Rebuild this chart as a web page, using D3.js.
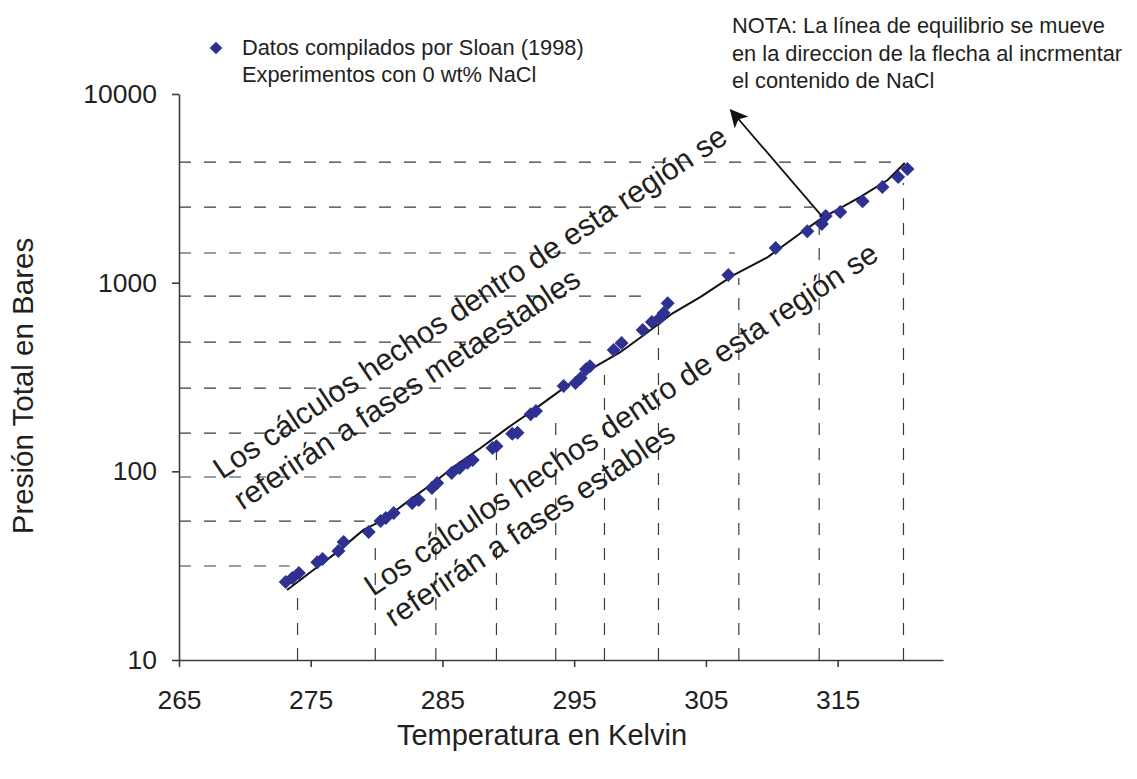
<!DOCTYPE html>
<html>
<head>
<meta charset="utf-8">
<script src="https://cdn.jsdelivr.net/npm/d3@7"></script>
<style>
  body { margin: 0; background: #fff; }
  svg { display: block; font-family: "Liberation Sans", Arial, sans-serif; }
</style>
</head>
<body>
<div id="chart"></div>
<script>
var width = 1137, height = 779;
var textColor = '#231f20';

var tempTicks = [265, 275, 285, 295, 305, 315];
var pressTicks = [10, 100, 1000, 10000];

// Sloan (1998) compiled points, 0 wt% NaCl
var sloanTemp = [273.1, 273.6, 274.1, 275.5, 275.9, 277.1, 277.5, 279.4, 280.3, 280.7,
  281.3, 282.7, 283.2, 284.2, 284.6, 285.7, 286.3, 286.9, 287.3, 288.8,
  289.1, 290.3, 290.7, 291.7, 292.1, 294.2, 295.1, 295.5, 295.9, 296.2,
  298.0, 298.6, 300.2, 300.9, 301.5, 301.8, 302.1, 306.7, 310.3, 312.7,
  313.8, 314.1, 315.2, 316.9, 318.4, 319.6, 320.3];
var sloanPress = [25.9, 27.2, 28.9, 33.0, 34.3, 37.8, 42.2, 47.7, 54.5, 56.6,
  60.1, 67.9, 70.5, 81.5, 86.7, 97.9, 104, 111, 115, 133,
  136, 158, 160, 201, 209, 283, 294, 312, 348, 361,
  439, 479, 561, 618, 649, 690, 779, 1097, 1525, 1875,
  2045, 2255, 2366, 2704, 3212, 3630, 4000];

// calculated equilibrium line
var eqTemp = [273.2, 274.0, 275.5, 277.0, 279.0, 280.5, 282.3, 284.6, 285.8, 287.9,
  289.9, 291.9, 294.2, 296.4, 298.5, 300.5, 302.5, 304.6, 307.1, 309.7,
  312.2, 313.8, 315.2, 316.7, 318.8, 320.1];
var eqPress = [23.5, 25.9, 31.1, 37.3, 48.9, 55.2, 68.7, 89.9, 105, 133,
  169, 211, 276, 352, 428, 541, 690, 840, 1097, 1367,
  1833, 2198, 2485, 2842, 3500, 4305];

// dashed guide lines: horizontal ones stop at a temperature, vertical ones at a pressure
var hGuidePress = [31.5, 54.5, 93.3, 159.6, 276, 484, 849, 1436, 2517, 4355];
var hGuideTemp = [273.4, 279.1, 283.3, 289.4, 292.8, 296.6, 300.4, 307.2, 313.1, 319.6];
var vGuideTemp = [274.0, 279.9, 284.5, 289.1, 293.6, 297.3, 301.4, 307.5, 313.6, 320.0];
var vGuidePress = [24.1, 43.2, 81.5, 126.5, 206, 324, 596, 1057, 2198, 3373];

// arrow: from the line towards higher pressure / lower temperature
var arrowTemp = [313.8, 306.9];
var arrowPress = [2254, 8200];

var legendLines = ['Datos compilados por Sloan (1998)', 'Experimentos con 0 wt% NaCl'];
var noteLines = ['NOTA: La línea de equilibrio se mueve',
  'en la direccion de la flecha al incrmentar',
  'el contenido de NaCl'];
var metaLines = ['Los cálculos hechos dentro de esta región se', 'referirán a fases metaestables'];
var stableLines = ['Los cálculos hechos dentro de esta región se', 'referirán a fases estables'];

var svg = d3.select('#chart').append('svg')
  .attr('width', width)
  .attr('height', height);

var x = d3.scaleLinear().domain([265, 323]).range([179, 943]);
var y = d3.scaleLog().domain([10, 10000]).range([660, 94]);

/* dashed guide lines */
var guides = svg.append('g')
  .attr('stroke', '#3a3a3a')
  .attr('stroke-width', 1.2)
  .attr('stroke-dasharray', '12,13');

guides.selectAll('line.h').data(hGuidePress).join('line')
  .attr('class', 'h')
  .attr('x1', x(265))
  .attr('x2', function(d, i) { return x(hGuideTemp[i]); })
  .attr('y1', function(d) { return y(d); })
  .attr('y2', function(d) { return y(d); });

guides.selectAll('line.v').data(vGuideTemp).join('line')
  .attr('class', 'v')
  .attr('x1', function(d) { return x(d); })
  .attr('x2', function(d) { return x(d); })
  .attr('y1', y(10))
  .attr('y2', function(d, i) { return y(vGuidePress[i]); });

/* axes */
var xAxis = svg.append('g')
  .attr('transform', 'translate(0,' + y(10) + ')')
  .call(d3.axisBottom(x).tickValues(tempTicks).tickSize(7).tickSizeOuter(0)
    .tickPadding(23).tickFormat(d3.format('d')));

var yAxis = svg.append('g')
  .attr('transform', 'translate(' + x(265) + ',0)')
  .call(d3.axisLeft(y).tickValues(pressTicks).tickSize(7).tickSizeOuter(0)
    .tickPadding(15).tickFormat(d3.format('d')));

[xAxis, yAxis].forEach(function(ax) {
  ax.attr('font-family', null).attr('font-size', 26.5);
  ax.selectAll('path, line').attr('stroke', '#3c3c3c').attr('stroke-width', 1.6);
  ax.selectAll('text').attr('fill', textColor);
});

/* equilibrium line */
var eqLine = d3.line()
  .x(function(d) { return x(d[0]); })
  .y(function(d) { return y(d[1]); });

svg.append('path')
  .datum(d3.zip(eqTemp, eqPress))
  .attr('d', eqLine)
  .attr('fill', 'none')
  .attr('stroke', '#111')
  .attr('stroke-width', 2);

/* data points */
var diamond = 'M0,-7L7,0L0,7L-7,0Z';

svg.append('g').selectAll('path')
  .data(d3.zip(sloanTemp, sloanPress))
  .join('path')
  .attr('d', diamond)
  .attr('fill', '#2e3192')
  .attr('transform', function(d) { return 'translate(' + x(d[0]) + ',' + y(d[1]) + ')'; });

/* arrow */
svg.append('defs').append('marker')
  .attr('id', 'head')
  .attr('viewBox', '0 0 10 10')
  .attr('refX', 9).attr('refY', 5)
  .attr('markerWidth', 18).attr('markerHeight', 18)
  .attr('markerUnits', 'userSpaceOnUse')
  .attr('orient', 'auto')
  .append('path')
  .attr('d', 'M0,0L10,5L0,10L2.5,5Z')
  .attr('fill', '#111');

svg.append('line')
  .attr('x1', x(arrowTemp[0])).attr('y1', y(arrowPress[0]))
  .attr('x2', x(arrowTemp[1])).attr('y2', y(arrowPress[1]))
  .attr('stroke', '#111')
  .attr('stroke-width', 1.8)
  .attr('marker-end', 'url(#head)');

/* axis titles */
svg.append('text')
  .attr('x', 542).attr('y', 745)
  .attr('text-anchor', 'middle')
  .attr('font-size', 29)
  .attr('fill', textColor)
  .text('Temperatura en Kelvin');

svg.append('text')
  .attr('transform', 'translate(33,386) rotate(-90)')
  .attr('text-anchor', 'middle')
  .attr('font-size', 29.5)
  .attr('fill', textColor)
  .text('Presión Total en Bares');

/* legend */
svg.append('path')
  .attr('d', diamond)
  .attr('fill', '#2e3192')
  .attr('transform', 'translate(216,48) scale(0.9)');

svg.append('g').selectAll('text')
  .data(legendLines)
  .join('text')
  .attr('x', 242)
  .attr('y', function(d, i) { return 55 + i * 27; })
  .attr('font-size', 21.8)
  .attr('fill', textColor)
  .text(function(d) { return d; });

/* note */
svg.append('g').selectAll('text')
  .data(noteLines)
  .join('text')
  .attr('x', 732)
  .attr('y', function(d, i) { return 33 + i * 27.5; })
  .attr('font-size', 21.8)
  .attr('fill', textColor)
  .text(function(d) { return d; });

/* slanted region labels */
function slanted(lines, px, py) {
  var t = svg.append('text')
    .attr('transform', 'translate(' + px + ',' + py + ') rotate(-33.7)')
    .attr('font-size', 30.4)
    .attr('fill', textColor);
  t.selectAll('tspan')
    .data(lines)
    .join('tspan')
    .attr('x', 0)
    .attr('y', function(d, i) { return i * 37; })
    .text(function(d) { return d; });
}

slanted(metaLines, 222, 480);
slanted(stableLines, 373, 597);
</script>
</body>
</html>
